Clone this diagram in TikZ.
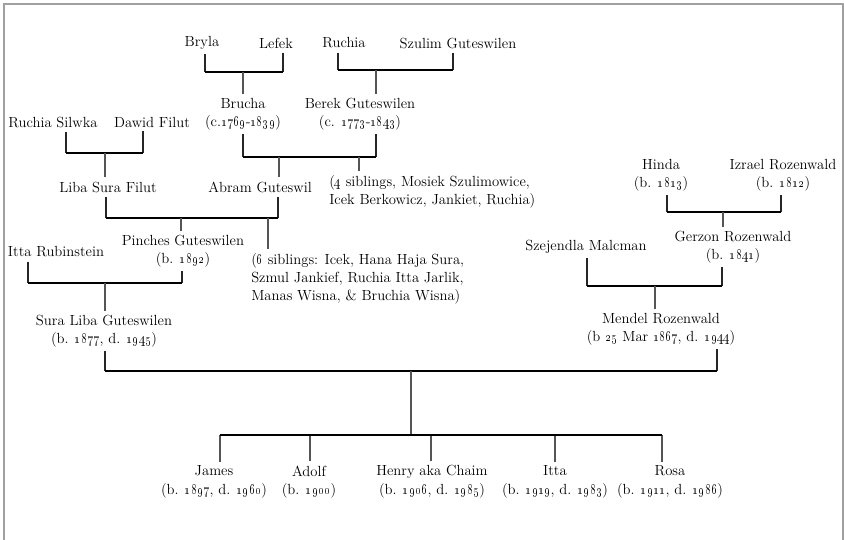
\documentclass[tikz,border=0pt]{standalone}
\usepackage{graphicx}
\usetikzlibrary{calc}
\definecolor{ftframe}{HTML}{A0A0A0}
\definecolor{ftline}{HTML}{555555}
\newcommand{\ftyr}[1]{\scalebox{0.85}[1]{\oldstylenums{#1}}}
% couple: parent, x-offset, parent, x-offset, level of the bar
\newcommand{\ftu}[5]{%
  \path ($(#1.south)+(#2,0)$) coordinate (#1-d)
        ($(#3.south)+(#4,0)$) coordinate (#3-d)
        (0,#5) coordinate (#1-#3);
  \draw[leg] (#1-d) -- (#1-d |- #1-#3) (#3-d) -- (#3-d |- #1-#3);
  \draw[bar] (#1-d |- #1-#3) -- (#3-d |- #1-#3);}
% child hanging from a bar: bar, child, x-offset
\newcommand{\ftdown}[3]{%
  \path ($(#2.north)+(#3,0)$) coordinate (#2-u);
  \draw[stem] (#2-u |- #1) -- (#2-u);}

\begin{document}
\begin{tikzpicture}[
    x=0.75pt, y=-0.75pt,
    font=\fontsize{11}{13.5}\selectfont,
    % ---- shared styles ---------------------------------------------------
    person/.style={align=center, inner sep=3pt},
    kid/.style={person, font=\fontsize{11}{14}\selectfont},
    note/.style={align=left, anchor=west, inner sep=3pt},
    leg/.style={draw=black!85, line width=0.8pt},
    stem/.style={draw=ftline, line width=0.8pt},
    bar/.style={draw=black, line width=1.5pt},
    frame/.style={draw=ftframe, line width=1.1pt},
  ]
\useasboundingbox (0,0) rectangle (844,540);
\draw[frame] (4,540) -- (4,4) -- (843,4) -- (843,540);

% =========================================================================
% LEFT -- the Guteswilen side
% =========================================================================
\node[person] (bryla)  at (202,43) {Bryla};
\node[person] (lefek)  at (276,43) {Lefek};
\node[person] (ruchia) at (344,43) {Ruchia};
\node[person] (szulim) at (458,43) {Szulim Guteswilen};

\node[person] (brucha) at (243,114) {Brucha\\(c.\ftyr{1769}-\ftyr{1839})};
\node[person] (berek)  at (360,114) {Berek Guteswilen\\(c. \ftyr{1773}-\ftyr{1843})};
\ftu{bryla}{3}{lefek}{7}{72}
\ftdown{bryla-lefek}{brucha}{0}
\ftu{ruchia}{-6}{szulim}{-5}{70}
\ftdown{ruchia-szulim}{berek}{16}

\node[person] (silwka) at (53,122)  {Ruchia Silwka};
\node[person] (dawid)  at (152,122) {Dawid Filut};
\node[person] (liba)   at (108,187) {Liba Sura Filut};
\node[person] (abram)  at (260,187) {Abram Guteswil};
\node[note] (sibsA) at (325,191.5)
  {(\ftyr{4} siblings, Mosiek Szulimowice,\\Icek Berkowicz, Jankiet, Ruchia)};
\ftu{silwka}{13}{dawid}{-9}{153}
\ftdown{silwka-dawid}{liba}{-3}
\ftu{brucha}{0}{berek}{16}{157}
\ftdown{brucha-berek}{abram}{19}
\path ($(sibsA.north west)+(34,0)$) coordinate (sibsA-u);
\draw[stem] (sibsA-u |- brucha-berek) -- (sibsA-u);

\node[person] (itta)    at (56,252)  {Itta Rubinstein};
\node[person] (pinches) at (183,251) {Pinches Guteswilen\\(b. \ftyr{1892})};
\node[note] (sibsB) at (247,278.5)
  {(\ftyr{6} siblings: Icek, Hana Haja Sura,\\Szmul Jankief, Ruchia Itta Jarlik,\\Manas Wisna, \& Bruchia Wisna)};
\ftu{liba}{-2}{abram}{18}{218}
\ftdown{liba-abram}{pinches}{-2}
\path ($(sibsB.north west)+(21,0)$) coordinate (sibsB-u);
\draw[stem] (sibsB-u |- liba-abram) -- (sibsB-u);

\node[person] (sura) at (104,331) {Sura Liba Guteswilen\\(b. \ftyr{1877}, d. \ftyr{1945})};
\ftu{itta}{-28}{pinches}{-1}{283}
\ftdown{itta-pinches}{sura}{1}

% =========================================================================
% RIGHT -- the Rozenwald side
% =========================================================================
\node[person] (hinda)     at (661,175) {Hinda\\(b. \ftyr{1813})};
\node[person] (izrael)    at (783,175) {Izrael Rozenwald\\(b. \ftyr{1812})};
\node[person] (szejendla) at (586,247) {Szejendla Malcman};
\node[person] (gerzon)    at (733,247) {Gerzon Rozenwald\\(b. \ftyr{1841})};
\node[person] (mendel)    at (661,329) {Mendel Rozenwald\\(b \ftyr{25} Mar \ftyr{1867}, d. \ftyr{1944})};
\ftu{hinda}{6}{izrael}{-2}{212}
\ftdown{hinda-izrael}{gerzon}{-10}
\ftu{szejendla}{1}{gerzon}{-11}{286}
\ftdown{szejendla-gerzon}{mendel}{-6}

% =========================================================================
% FOOT -- the children
% =========================================================================
\node[kid] (james) at (214,482) {James\\(b. \ftyr{1897}, d. \ftyr{1960})};
\node[kid] (adolf) at (309,482) {Adolf\\(b. \ftyr{1900})};
\node[kid] (henry) at (432,482) {Henry aka Chaim\\(b. \ftyr{1906}, d. \ftyr{1985})};
\node[kid] (ittaB) at (555,482) {Itta\\(b. \ftyr{1919}, d. \ftyr{1983})};
\node[kid] (rosa)  at (670,482) {Rosa\\(b. \ftyr{1911}, d. \ftyr{1986})};

\ftu{sura}{1}{mendel}{56}{371}
\coordinate (kids) at (0,435);
\draw[stem] ($(sura-d |- sura-mendel)!0.5!(mendel-d |- sura-mendel)$) coordinate (famtop)
  -- (famtop |- kids);
\foreach \c/\dx in {james/6, adolf/1, henry/-1, ittaB/0, rosa/-8}{
  \ftdown{kids}{\c}{\dx}}
\draw[bar] (james-u |- kids) -- (rosa-u |- kids);

\end{tikzpicture}
\end{document}
